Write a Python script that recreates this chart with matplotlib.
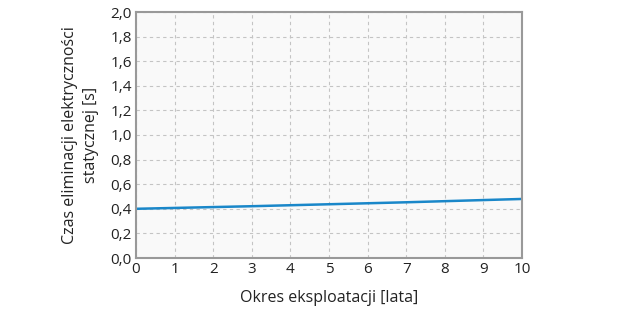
import matplotlib
matplotlib.use("Agg")
import matplotlib.pyplot as plt

years = [0, 1, 2, 3, 4, 5, 6, 7, 8, 9, 10]
times = [0.40, 0.407, 0.414, 0.421, 0.429, 0.437, 0.445, 0.453, 0.462, 0.471, 0.48]
yticks = [0.0, 0.2, 0.4, 0.6, 0.8, 1.0, 1.2, 1.4, 1.6, 1.8, 2.0]
ytick_labels = ["0,0", "0,2", "0,4", "0,6", "0,8", "1,0", "1,2", "1,4", "1,6", "1,8", "2,0"]
xlabel = "Okres eksploatacji [lata]"
ylabel = "Czas eliminacji elektryczności\nstatycznej [s]"

plt.rcParams['font.family'] = ['Open Sans', 'DejaVu Sans']

fig = plt.figure(figsize=(6.2, 3.1), dpi=100)
ax = fig.add_axes([136/620, 1 - 258/310, (522-136)/620, (258-12)/310])
ax.set_facecolor('#f9f9f9')
ax.plot(years, times, color='#1a87c9', lw=1.8)
ax.set_xlim(0, 10)
ax.set_ylim(0, 2.0)
ax.set_xticks(years)
ax.set_yticks(yticks)
ax.set_yticklabels(ytick_labels)
ax.grid(True, color='#c4c4c4', linestyle=(0, (3, 3)), lw=0.8)
ax.set_axisbelow(True)
for s in ax.spines.values():
    s.set_color('#999999')
    s.set_linewidth(1.5)
ax.tick_params(length=0, labelsize=11, colors='#222222', pad=3)
ax.set_xlabel(xlabel, fontsize=11.5, color='#222222', labelpad=9)
ax.set_ylabel(ylabel, fontsize=11.5, color='#222222', labelpad=8, linespacing=1.45)
fig.savefig('out.png', dpi=100, facecolor='white')
